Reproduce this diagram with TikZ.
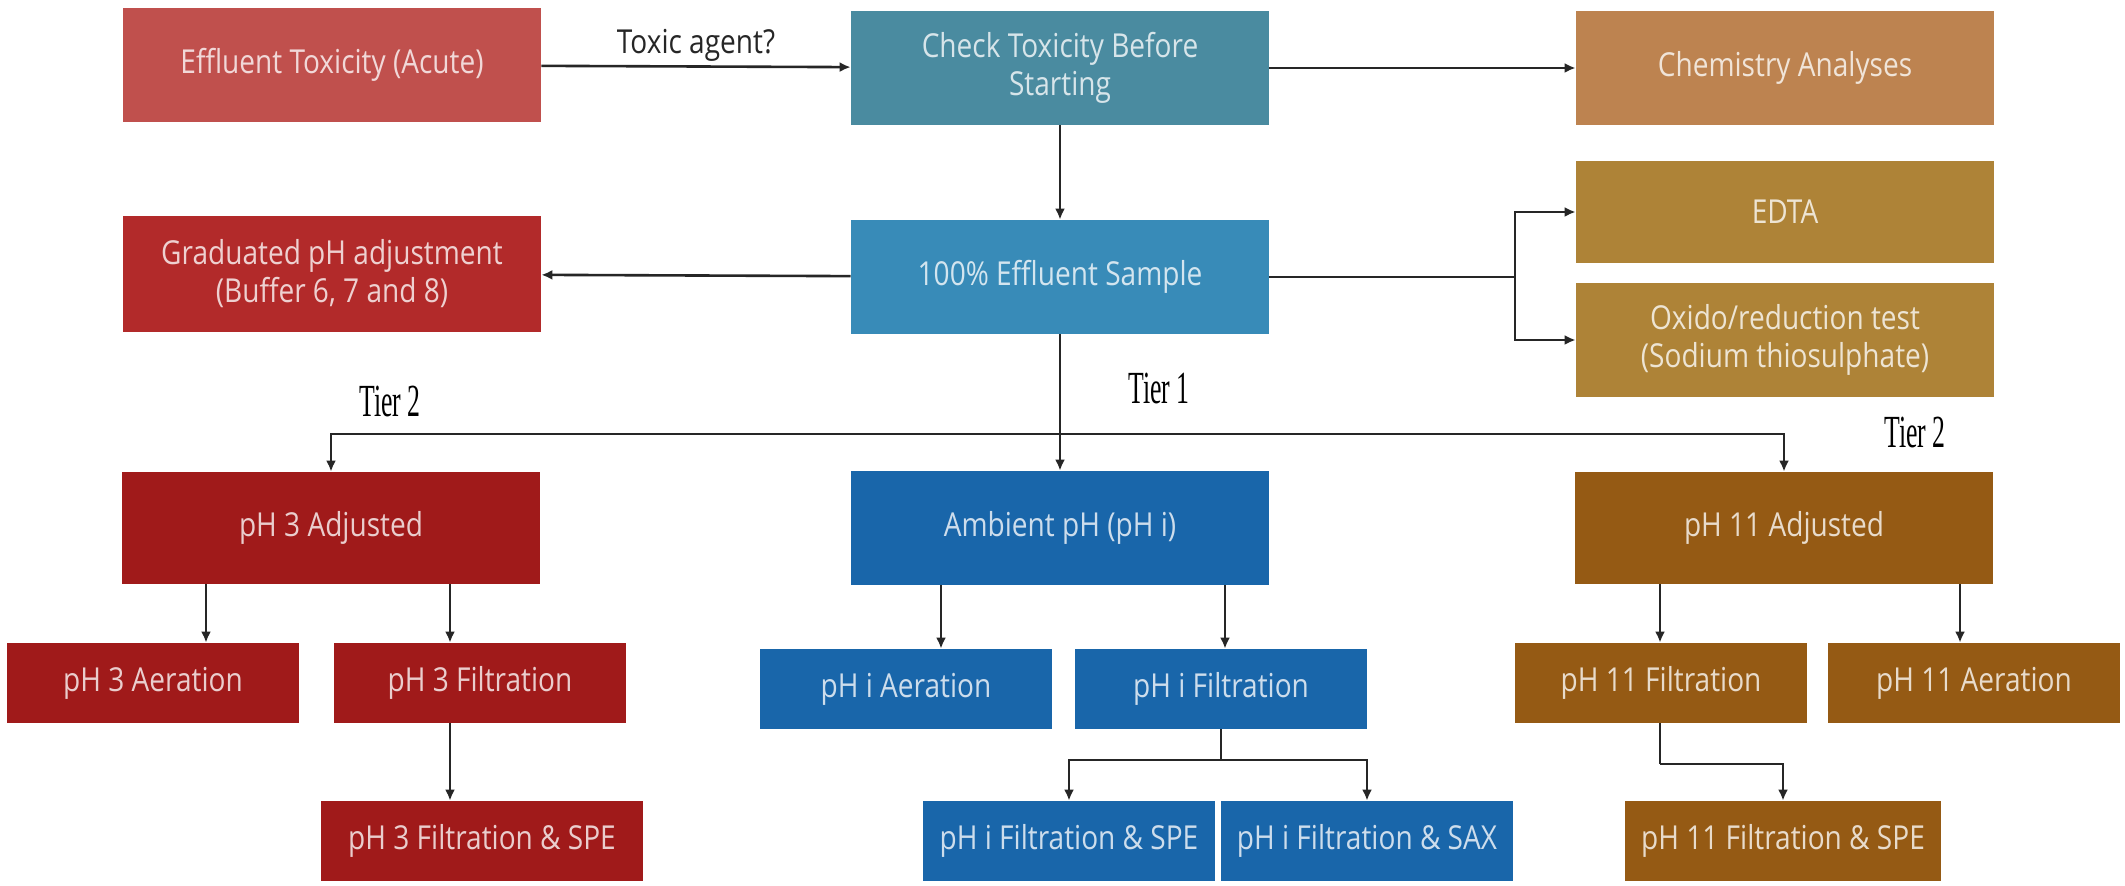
\documentclass[tikz,border=0pt]{standalone}
\usepackage{fontspec}
\usetikzlibrary{arrows.meta}
\newfontfamily\boxfont[FakeStretch=0.85]{Open Sans}
\newfontfamily\tierfont[FakeStretch=0.56]{Liberation Serif}
\definecolor{cEff}{HTML}{C0504D}
\definecolor{cCheck}{HTML}{4A8BA0}
\definecolor{cChem}{HTML}{BD8350}
\definecolor{cEdta}{HTML}{AE8337}
\definecolor{cGrad}{HTML}{B22A2A}
\definecolor{cPct}{HTML}{388BB8}
\definecolor{cRed}{HTML}{A01A1A}
\definecolor{cBlue}{HTML}{1966AA}
\definecolor{cBrown}{HTML}{955A14}
\tikzset{
  box/.style={rectangle, fill=#1, text=#1!22!white, inner sep=0pt, align=center,
    font={\boxfont\fontsize{16.5}{19}\selectfont}},
  big/.style={minimum width=209pt, minimum height=57pt},
  small/.style={minimum width=146pt, minimum height=40pt},
  arr/.style={draw=black!85, line width=1.3pt, -{Latex[length=5.5pt,width=5pt]}},
  ln/.style={draw=black!85, line width=1.3pt},
  tier/.style={font={\tierfont\fontsize{23}{25}\selectfont}, text=black, inner sep=0pt},
  lbl/.style={font={\boxfont\fontsize{16.5}{19}\selectfont}, text=black!85, inner sep=0pt}
}
\begin{document}
\begin{tikzpicture}[x=0.5pt, y=-0.5pt]
\useasboundingbox[fill=white] (0,0) rectangle (2125,886);

% top rows
\node[box=cEff, big] (eff) at (332,65) {Effluent Toxicity (Acute)};
\node[box=cCheck, big] (check) at (1060,68) {Check Toxicity Before\\Starting};
\node[box=cChem, big] (chem) at (1785,68) {Chemistry Analyses};
\node[box=cGrad, big, minimum height=58pt] (grad) at (332,274) {Graduated pH adjustment\\(Buffer 6, 7 and 8)};
\node[box=cPct, big] (pct) at (1060,277) {100\% Effluent Sample};
\node[box=cEdta, big, minimum height=51pt] (edta) at (1785,212) {EDTA};
\node[box=cEdta, big] (oxi) at (1785,340) {Oxido/reduction test\\(Sodium thiosulphate)};

% tier 1/2 level
\node[box=cRed, big, minimum height=56pt] (ph3) at (331,528) {pH 3 Adjusted};
\node[box=cBlue, big, minimum height=57pt] (amb) at (1060,528) {Ambient pH (pH i)};
\node[box=cBrown, big, minimum height=56pt] (ph11) at (1784,528) {pH 11 Adjusted};

\node[tier] (t2l) at (390,401) {Tier 2};
\node[tier] (t1) at (1159,389) {Tier 1};
\node[tier] (t2r) at (1915,432) {Tier 2};

% third row
\node[box=cRed, small] (ph3aer) at (153,683) {pH 3 Aeration};
\node[box=cRed, small] (ph3fil) at (480,683) {pH 3 Filtration};
\node[box=cBlue, small] (phiaer) at (906,689) {pH i Aeration};
\node[box=cBlue, small] (phifil) at (1221,689) {pH i Filtration};
\node[box=cBrown, small] (ph11fil) at (1661,683) {pH 11 Filtration};
\node[box=cBrown, small] (ph11aer) at (1974,683) {pH 11 Aeration};

% fourth row
\node[box=cRed, small, minimum width=161pt] (ph3spe) at (482,841) {pH 3 Filtration \& SPE};
\node[box=cBlue, small] (phispe) at (1069,841) {pH i Filtration \& SPE};
\node[box=cBlue, small] (phisax) at (1367,841) {pH i Filtration \& SAX};
\node[box=cBrown, small, minimum width=158pt] (ph11spe) at (1783,841) {pH 11 Filtration \& SPE};

% helper coordinates
\coordinate (split) at (1060,434);
\coordinate (jr) at (1515,277);
\coordinate (xa) at (206,0);
\coordinate (xb) at (450,0);
\coordinate (xc) at (941,0);
\coordinate (xd) at (1225,0);
\coordinate (xe) at (1660,0);
\coordinate (xf) at (1960,0);
\coordinate (jfi) at (1221,760);
\coordinate (j11) at (1660,764);

% connectors
\draw[arr] (eff) -- node[lbl, above=2pt] (tox) {Toxic agent?} (check);
\draw[arr] (check) -- (chem);
\draw[arr] (check) -- (pct);
\draw[arr] (pct) -- (grad);
\draw[ln] (pct.east) -- (jr);
\draw[arr] (jr) |- (edta.west);
\draw[arr] (jr) |- (oxi.west);
\draw[arr] (pct) -- (amb);
\draw[arr] (split) -| (ph3.north);
\draw[arr] (split) -| (ph11.north);

\draw[arr] (ph3.south -| xa) -- (ph3aer.north -| xa);
\draw[arr] (ph3.south -| xb) -- (ph3fil.north -| xb);
\draw[arr] (ph3fil.south -| xb) -- (ph3spe.north -| xb);

\draw[arr] (amb.south -| xc) -- (phiaer.north -| xc);
\draw[arr] (amb.south -| xd) -- (phifil.north -| xd);
\draw[ln] (phifil.south) -- (jfi);
\draw[arr] (jfi) -| (phispe.north);
\draw[arr] (jfi) -| (phisax.north);

\draw[arr] (ph11.south -| xe) -- (ph11fil.north -| xe);
\draw[arr] (ph11.south -| xf) -- (ph11aer.north -| xf);
\draw[ln] (ph11fil.south -| xe) -- (j11);
\draw[arr] (j11) -| (ph11spe.north);
\end{tikzpicture}
\end{document}
